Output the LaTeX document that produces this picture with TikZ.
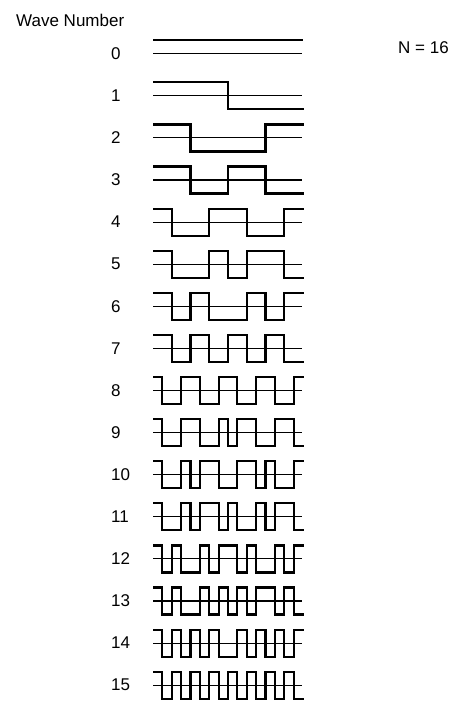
\documentclass[tikz,border=0pt]{standalone}
\usepackage{fontspec}
\setmainfont{Liberation Sans}

\begin{document}
\begin{tikzpicture}[x=1pt, y=-1pt,
  wave/.style={line width=2.2pt, line join=miter},
  axisline/.style={line width=1.1pt},
  lbl/.style={font=\fontsize{17}{20}\selectfont, inner sep=0pt}]

\useasboundingbox (0,0) rectangle (464,702);
\def\xo{153} \def\dx{9.375} \def\A{13.5}

\node[lbl, anchor=base west] (title) at (16,26) {Wave Number};
\node[lbl, anchor=base west] (size) at (398,53) {N = 16};

% wave 0 is flat
\node[lbl, anchor=west] (n0) at (111,53.7) {0};
\draw[axisline] (153,53.7) -- (302,53.7);
\draw[wave] (\xo,40.2) -- (303,40.2);

% sign changes of each Walsh function, in samples out of 16
\foreach \k/\tl in {1/{8}, 2/{4,12}, 3/{4,8,12}, 4/{2,6,10,14}, 5/{2,6,8,10,14},
    6/{2,4,6,10,12,14}, 7/{2,4,6,8,10,12,14}, 8/{1,3,5,7,9,11,13,15},
    9/{1,3,5,7,8,9,11,13,15}, 10/{1,3,4,5,7,9,11,12,13,15},
    11/{1,3,4,5,7,8,9,11,12,13,15}, 12/{1,2,3,5,6,7,9,10,11,13,14,15},
    13/{1,2,3,5,6,7,8,9,10,11,13,14,15}, 14/{1,2,3,4,5,6,7,9,10,11,12,13,14,15},
    15/{1,2,3,4,5,6,7,8,9,10,11,12,13,14,15}} {
  \pgfmathsetmacro\yo{53.7+42.1*\k}
  \node[lbl, anchor=west] (n\k) at (111,\yo) {\k};
  \draw[axisline] (153,\yo) -- (302,\yo);
  \draw[wave] (\xo,{\yo-\A}) \foreach \t [count=\i] in \tl {
      -- ({\xo+\t*\dx},{\yo-(1-2*mod(\i-1,2))*\A})
      -- ({\xo+\t*\dx},{\yo-(1-2*mod(\i,2))*\A}) }
    -- (304,{\yo-(1-2*mod(\k,2))*\A});
}
\end{tikzpicture}
\end{document}
